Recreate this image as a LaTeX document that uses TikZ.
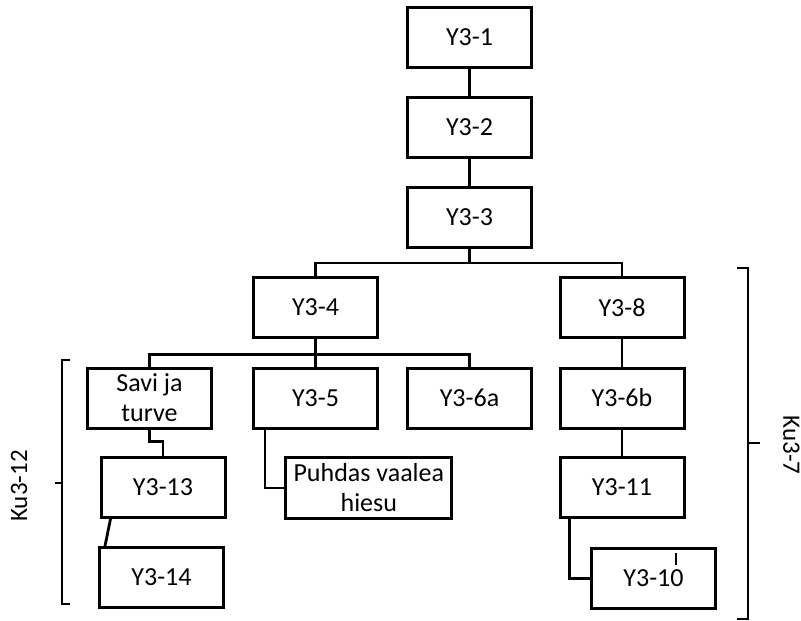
\documentclass[tikz,border=0pt]{standalone}
\usepackage{fontspec}
\setmainfont{Carlito}
\usetikzlibrary{calc}
\begin{document}
\begin{tikzpicture}[x=1pt,y=-1pt,
  box/.style={draw, line width=3pt, minimum width=124pt, minimum height=60pt, inner sep=0pt, align=center, font=\fontsize{26}{30}\selectfont},
  link/.style={line width=2.8pt},
  brace/.style={line width=1.6pt},
  lbl/.style={inner sep=0pt, font=\fontsize{25}{30}\selectfont}]
\useasboundingbox[fill=white] (0,0) rectangle (801,621);
% nodes
\node[box] (Y31) at (469.5,37.5) {Y3-1};
\node[box] (Y32) at (469.5,127.5) {Y3-2};
\node[box] (Y33) at (469.5,217.5) {Y3-3};
\node[box] (Y34) at (315.5,307.5) {Y3-4};
\node[box] (Y38) at (622,307.5) {Y3-8};
\node[box] (Savi) at (149.5,398) {Savi ja\\turve};
\node[box] (Y35) at (315.5,398) {Y3-5};
\node[box] (Y36a) at (469.5,398) {Y3-6a};
\node[box] (Y36b) at (622,398) {Y3-6b};
\node[box] (Y313) at (163,487.5) {Y3-13};
\node[box, minimum width=166pt, minimum height=61pt] (Puhdas) at (368.8,488) {Puhdas vaalea\\hiesu};
\node[box] (Y311) at (622,487.5) {Y3-11};
\node[box] (Y314) at (161.5,577.5) {Y3-14};
\node[box] (Y310) at (653.5,578.5) {Y3-10};
% connectors
\draw[link] (Y31) -- (Y32);
\draw[link] (Y32) -- (Y33);
\draw[link] (Y33.south) -- ++(0,14) coordinate (b1);
\draw[link] (Y34.north) |- (b1) -| (Y38.north);
\draw[link] (Y34.south) -- ++(0,15.5) coordinate (b2);
\draw[link] (Savi.north) |- (b2) -| (Y36a.north);
\draw[link] (Y35.north) -- (Y35.north |- b2);
\draw[link] (Y38) -- (Y36b);
\draw[link] (Y36b) -- (Y311);
\draw[link] (Savi.south) -- ++(0,12) -| (Y313.north);
\draw[link] ($(Y313.south west)+(11,0)$) -- ($(Y314.north west)+(7,0)$);
\draw[link] ($(Y35.south west)+(13,0)$) |- (Puhdas.west);
\draw[link] ($(Y311.south west)+(11,0)$) |- (Y310.west);
\draw[line width=1.4pt] ($(Y310.center)+(22.5,-25.5)$) -- ++(0,12);
% braces
\draw[brace] (70,360) -- (62,360) -- (62,604) -- (70,604);
\draw[brace] (62,483) -- (55,483);
\draw[brace] (737,268) -- (748,268) -- (748,619) -- (737,619);
\draw[brace] (748,443) -- (760,443);
% labels
\node[lbl, rotate=90] (ku12) at (19,486) {Ku3-12};
\node[lbl, rotate=-90] (ku7) at (791.5,445) {Ku3-7};
\end{tikzpicture}
\end{document}
